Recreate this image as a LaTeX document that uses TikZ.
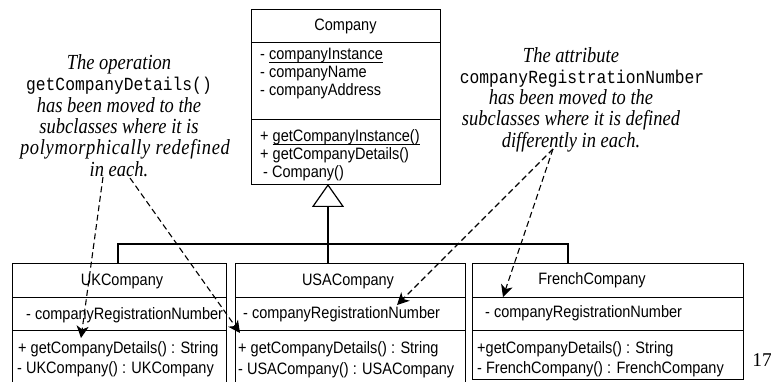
\documentclass[tikz,border=0pt]{standalone}
\usepackage{fontspec}
\setmainfont{Liberation Serif}
\newfontfamily\umlfont{Liberation Sans}[FakeStretch=0.88]
\newfontfamily\notefont{Liberation Serif}[FakeStretch=0.86]
\newfontfamily\codefont{Liberation Mono}[FakeStretch=0.88]
\usetikzlibrary{arrows.meta,calc}

\tikzset{
  part/.style={draw, line width=1.2pt, anchor=north west, inner sep=0pt},
  umltext/.style={font=\umlfont\fontsize{16.5}{17}\selectfont, anchor=base west, inner sep=0pt},
  umltitle/.style={font=\umlfont\fontsize{16.5}{17}\selectfont, anchor=base, inner sep=0pt},
  note/.style={font=\notefont\fontsize{21.5}{21.3}\selectfont\itshape, align=center, inner sep=0pt},
  hint/.style={line width=1.1pt, dash pattern=on 6pt off 3.5pt, -{Stealth[length=12pt,width=12pt,inset=3.5pt]}},
  inherit/.style={line width=1.2pt},
}
% monospaced names inside the notes
\newcommand{\code}[1]{{\upshape\codefont\fontsize{18.5}{21.3}\selectfont #1}}
% UML static members: underline drawn just under the baseline
\newcommand{\classul}[1]{\setbox0\hbox{#1}\rlap{\rule[-2.6pt]{\wd0}{0.9pt}}\box0}
% a slightly spaced-out line of note text
\newcommand{\wideline}[1]{{\addfontfeature{LetterSpace=3}#1}}

\begin{document}
\begin{tikzpicture}[x=1pt,y=-1pt]
\useasboundingbox (0,0) rectangle (771,382);

% ---- superclass Company
\node[part, minimum width=189pt, minimum height=33pt] (comp-head) at (251,9) {};
\node[part, minimum width=189pt, minimum height=77pt] (comp-attr) at (251,42) {};
\node[part, minimum width=189pt, minimum height=65pt] (comp-ops)  at (251,119) {};
\node[umltitle] (comp-name) at (345.5,31) {Company};
\node[umltext] (comp-a1) at (260,60) {- \classul{companyInstance}};
\node[umltext] (comp-a2) at (260,78) {- companyName};
\node[umltext] (comp-a3) at (260,96) {- companyAddress};
\node[umltext] (comp-o1) at (260,142) {+ \classul{getCompanyInstance()}};
\node[umltext] (comp-o2) at (260,160) {+ getCompanyDetails()};
\node[umltext] (comp-o3) at (263,178) {- Company()};

% ---- subclass UKCompany
\node[part, minimum width=214pt, minimum height=34pt] (uk-head) at (12,263) {};
\node[part, minimum width=214pt, minimum height=33pt] (uk-attr) at (12,297) {};
\node[part, minimum width=214pt, minimum height=60pt] (uk-ops)  at (12,330) {};
\node[umltitle] (uk-name) at (122,285) {UKCompany};
\node[umltext] (uk-a1) at (26,319) {- companyRegistrationNumber};
\node[umltext] (uk-o1) at (18,353) {+ getCompanyDetails() : String};
\node[umltext] (uk-o2) at (17,373) {- UKCompany() : UKCompany};

% ---- subclass USACompany
\node[part, minimum width=230pt, minimum height=34pt] (usa-head) at (235,263) {};
\node[part, minimum width=230pt, minimum height=33pt] (usa-attr) at (235,297) {};
\node[part, minimum width=230pt, minimum height=60pt] (usa-ops)  at (235,330) {};
\node[umltitle] (usa-name) at (348,285) {USACompany};
\node[umltext] (usa-a1) at (243,318) {- companyRegistrationNumber};
\node[umltext] (usa-o1) at (238,353) {+ getCompanyDetails() : String};
\node[umltext] (usa-o2) at (238,374) {- USACompany() : USACompany};

% ---- subclass FrenchCompany
\node[part, minimum width=271pt, minimum height=34pt] (fr-head) at (472,263) {};
\node[part, minimum width=271pt, minimum height=33pt] (fr-attr) at (472,297) {};
\node[part, minimum width=271pt, minimum height=49pt] (fr-ops)  at (472,330) {};
\node[umltitle] (fr-name) at (592,284) {FrenchCompany};
\node[umltext] (fr-a1) at (485,317) {- companyRegistrationNumber};
\node[umltext] (fr-o1) at (477,353) {+getCompanyDetails() : String};
\node[umltext] (fr-o2) at (477,373) {- FrenchCompany() : FrenchCompany};

% ---- generalisation tree
\coordinate (apex)    at (328,184);
\coordinate (usa-in)  at (328,263);
\coordinate (uk-in)   at (118,263);
\coordinate (fr-in)   at (568,263);
\coordinate (bar-l)   at (118,244);
\coordinate (bar-r)   at (568,244);
\draw[inherit, -{Triangle[open,length=23pt,width=32pt,line width=1.2pt]}] (usa-in) -- (apex);
\draw[inherit] (uk-in) -- (bar-l) -- (bar-r) -- (fr-in);

% ---- notes
\node[note] (note-op) at (119,115.5)
  {The operation\\ \code{getCompanyDetails()}\\ has been moved to the\\ subclasses where it is\\
   \hspace*{12pt}\wideline{polymorphically redefined}\\ in each.};
\node[note] (note-attr) at (571,99.5)
  {The attribute\\ \hspace*{22pt}\code{companyRegistrationNumber}\\ has been moved to the\\
   subclasses where it is defined\\ differently in each.};

\node[font=\fontsize{19.5}{19.5}\selectfont, inner sep=0pt] (page) at (762,360) {17};

% ---- note pointers
\coordinate (op-a)       at (103,177);
\coordinate (op-b)       at (130,178);
\coordinate (attr-a)     at (553,149);
\coordinate (uk-op-tip)  at (81,338);
\coordinate (usa-op-tip) at (240,333);
\coordinate (usa-at-tip) at (397,305);
\coordinate (fr-at-tip)  at (503,297);
\draw[hint] (op-a) -- (uk-op-tip);
\draw[hint] (op-b) -- (usa-op-tip);
\draw[hint] (attr-a) -- (usa-at-tip);
\draw[hint] (attr-a) -- (fr-at-tip);
\end{tikzpicture}
\end{document}
